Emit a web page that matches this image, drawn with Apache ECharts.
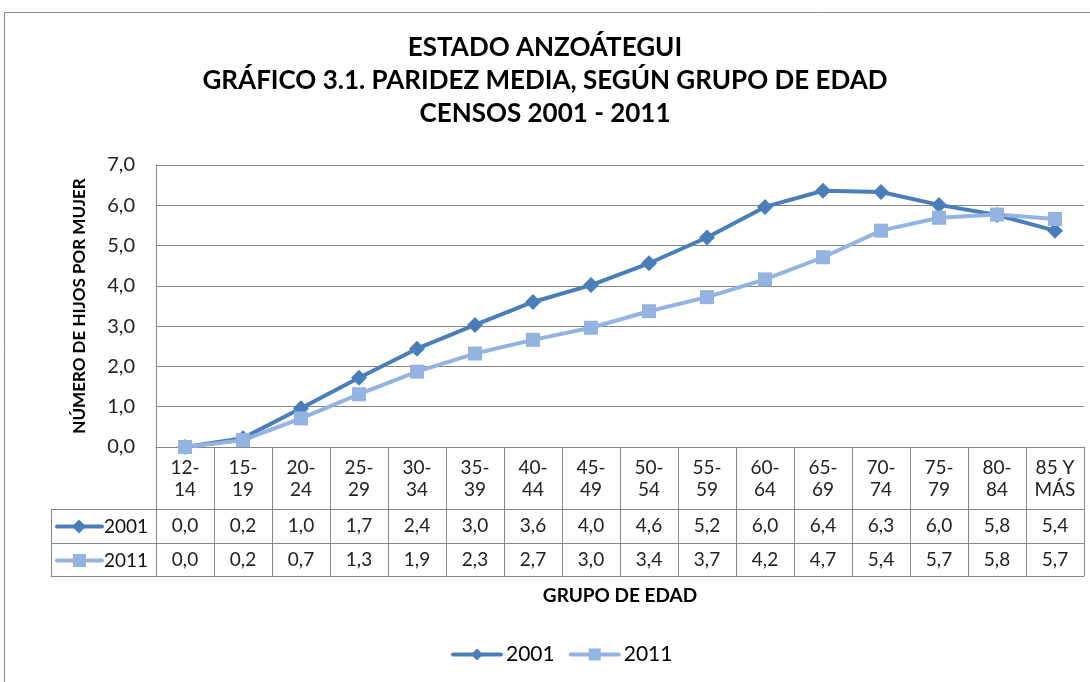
<!DOCTYPE html>
<html>
<head>
<meta charset="utf-8">
<script src="https://cdn.jsdelivr.net/npm/echarts@6/dist/echarts.min.js"></script>
<style>
  html, body { margin: 0; padding: 0; background: #fff; }
  #main { width: 1090px; height: 682px; }
</style>
</head>
<body>
<div id="main"></div>
<script>
// grupos de edad (etiquetas del eje / cabecera de la tabla)
var grupos = ["12-\n14", "15-\n19", "20-\n24", "25-\n29", "30-\n34", "35-\n39", "40-\n44", "45-\n49",
  "50-\n54", "55-\n59", "60-\n64", "65-\n69", "70-\n74", "75-\n79", "80-\n84", "85 Y\nMÁS"];
// paridez media por censo
var censo2001 = [0.0, 0.22, 0.96, 1.72, 2.44, 3.03, 3.6, 4.02, 4.56, 5.2, 5.96, 6.36, 6.33, 6.01, 5.76, 5.37];
var censo2011 = [0.0, 0.17, 0.71, 1.31, 1.87, 2.32, 2.66, 2.96, 3.37, 3.72, 4.16, 4.71, 5.37, 5.69, 5.77, 5.66];
var yTicks = [0, 1, 2, 3, 4, 5, 6, 7];

function coma(v) {
  return v.toFixed(1).replace(".", ",");
}

var FONT = "Lato";
var C2001 = "#4a7ebb";
var C2011 = "#93b3e0";
var GRIS = "#868686";

var chart = echarts.init(document.getElementById("main"));

var gridLeft = 156, gridRight = 6, gridTop = 165, gridBottom = 235;
var axisY = 682 - gridBottom; // 447
var row1 = 62, row2 = 96, row3 = 129;

function filaAxis(offset, data, showLabel) {
  return {
    type: "category",
    data: data,
    position: "bottom",
    offset: offset,
    boundaryGap: true,
    axisLine: { show: true, lineStyle: { color: GRIS, width: 1 } },
    axisTick: { show: false },
    axisLabel: {
      show: showLabel,
      interval: 0,
      margin: 7,
      fontFamily: FONT,
      fontSize: 19,
      lineHeight: 20,
      color: "#222"
    },
    splitLine: { show: false }
  };
}

var option = {
  backgroundColor: "#fff",
  animation: false,
  title: {
    text: "ESTADO ANZOÁTEGUI\nGRÁFICO 3.1. PARIDEZ MEDIA, SEGÚN GRUPO DE EDAD\nCENSOS 2001 - 2011",
    left: "center",
    top: 26,
    textStyle: {
      fontFamily: FONT,
      fontWeight: "bold",
      fontSize: 26,
      lineHeight: 33,
      color: "#000"
    }
  },
  legend: {
    bottom: 12,
    left: 446,
    itemWidth: 48,
    itemHeight: 15,
    itemGap: 14,
    lineStyle: { width: 4, cap: "round" },
    textStyle: { fontFamily: FONT, fontSize: 21, color: "#000" },
    data: ["2001", "2011"]
  },
  grid: { left: gridLeft, right: gridRight, top: gridTop, bottom: gridBottom },
  xAxis: [
    {
      type: "category",
      data: grupos,
      boundaryGap: true,
      axisLine: { show: true, lineStyle: { color: GRIS, width: 1 } },
      axisTick: {
        show: true,
        interval: 0,
        inside: false,
        length: row3,
        lineStyle: { color: GRIS, width: 1 }
      },
      axisLabel: {
        interval: 0,
        margin: 10,
        fontFamily: FONT,
        fontSize: 19,
        lineHeight: 22,
        color: "#222"
      },
      name: "GRUPO DE EDAD",
      nameLocation: "middle",
      nameGap: 139,
      nameTextStyle: { fontFamily: FONT, fontWeight: "bold", fontSize: 19, color: "#000" }
    },
    filaAxis(row1, censo2001.map(coma), true),
    filaAxis(row2, censo2011.map(coma), true),
    filaAxis(row3, grupos, false)
  ],
  yAxis: {
    type: "value",
    min: yTicks[0],
    max: yTicks[yTicks.length - 1],
    interval: 1,
    axisLine: { show: true, lineStyle: { color: GRIS, width: 1 } },
    axisTick: { show: false },
    axisLabel: {
      margin: 21,
      fontFamily: FONT,
      fontSize: 20,
      color: "#222",
      formatter: function(v) { return coma(v); }
    },
    splitLine: { lineStyle: { color: GRIS, width: 1 } },
    name: "NÚMERO DE HIJOS POR MUJER",
    nameLocation: "middle",
    nameRotate: 90,
    nameGap: 68,
    nameTextStyle: { fontFamily: FONT, fontWeight: "bold", fontSize: 17, color: "#000" }
  },
  series: [
    {
      name: "2001",
      type: "line",
      data: censo2001,
      symbol: "diamond",
      symbolSize: 16,
      lineStyle: { color: C2001, width: 4 },
      itemStyle: { color: C2001 }
    },
    {
      name: "2011",
      type: "line",
      data: censo2011,
      symbol: "rect",
      symbolSize: 14,
      lineStyle: { color: C2011, width: 4 },
      itemStyle: { color: C2011 }
    }
  ],
  graphic: []
};

// marco exterior y columna de claves de la tabla
var y1 = axisY + row1, y2 = axisY + row2, y3 = axisY + row3;
var tabLeft = 51;
var g = [
  { type: "rect", shape: { x: 4.5, y: 12.5, width: 1100, height: 700 }, style: { fill: null, stroke: "#8c8c8c", lineWidth: 1 }, silent: true },
  { type: "line", shape: { x1: tabLeft, y1: y1 + 0.5, x2: gridLeft, y2: y1 + 0.5 }, style: { stroke: GRIS, lineWidth: 1 } },
  { type: "line", shape: { x1: tabLeft, y1: y2 + 0.5, x2: gridLeft, y2: y2 + 0.5 }, style: { stroke: GRIS, lineWidth: 1 } },
  { type: "line", shape: { x1: tabLeft, y1: y3 + 0.5, x2: gridLeft, y2: y3 + 0.5 }, style: { stroke: GRIS, lineWidth: 1 } },
  { type: "line", shape: { x1: tabLeft + 0.5, y1: y1, x2: tabLeft + 0.5, y2: y3 }, style: { stroke: GRIS, lineWidth: 1 } }
];
[["2001", C2001, "diamond", y1], ["2011", C2011, "rect", y2]].forEach(function(k) {
  var cy = k[3] + (row2 - row1) / 2 + 0.5;
  g.push({ type: "line", shape: { x1: 57, y1: cy, x2: 102, y2: cy }, style: { stroke: k[1], lineWidth: 4, lineCap: "round" } });
  if (k[2] === "diamond") {
    g.push({ type: "polygon", shape: { points: [[79, cy - 7], [86, cy], [79, cy + 7], [72, cy]] }, style: { fill: k[1] } });
  } else {
    g.push({ type: "rect", shape: { x: 73, y: cy - 6.5, width: 13, height: 13 }, style: { fill: k[1] } });
  }
  g.push({ type: "text", x: 104, y: cy, style: { text: k[0], fontFamily: FONT, fontSize: 19, fill: "#111", verticalAlign: "middle" } });
});
option.graphic = g;

chart.setOption(option);
</script>
</body>
</html>
